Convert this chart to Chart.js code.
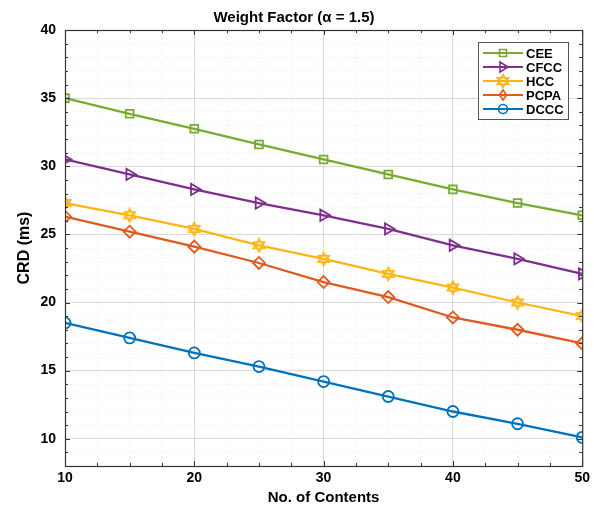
<!DOCTYPE html>
<html>
<head>
  <script src="https://cdn.jsdelivr.net/npm/chart.js@4/dist/chart.umd.min.js"></script>
  <style>
    body { margin: 0; background: #fff; }
  </style>
</head>
<body>
  <canvas id="wykres" width="594" height="507"></canvas>
  <script>
// data
const contents = [10, 15, 20, 25, 30, 35, 40, 45, 50];
const cee  = [35.0, 33.85, 32.75, 31.6, 30.5, 29.4, 28.3, 27.3, 26.4];
const cfcc = [30.5, 29.4, 28.3, 27.3, 26.4, 25.4, 24.2, 23.2, 22.1];
const hcc  = [27.3, 26.4, 25.4, 24.2, 23.2, 22.1, 21.1, 20.0, 19.0];
const pcpa = [26.3, 25.2, 24.1, 22.9, 21.5, 20.4, 18.9, 18.0, 17.0];
const dccc = [18.5, 17.4, 16.3, 15.3, 14.2, 13.1, 12.0, 11.1, 10.1];
const seriesNames = ['CEE', 'CFCC', 'HCC', 'PCPA', 'DCCC'];
const xTicks = [10, 20, 30, 40, 50];
const yTicks = [10, 15, 20, 25, 30, 35, 40];

const colors = ['#77AC30', '#7E2F8E', '#FDB515', '#E05A1E', '#0072BD'];
const FONT = "'Liberation Sans', Arial, sans-serif";

// hexagram marker for HCC
function hexagram(color) {
  const c = document.createElement('canvas');
  c.width = 16; c.height = 16;
  const g = c.getContext('2d');
  g.strokeStyle = color;
  g.lineWidth = 1.6;
  const r = 6.5;
  [ -Math.PI / 2, Math.PI / 2 ].forEach(function (a0) {
    g.beginPath();
    for (let k = 0; k < 3; k++) {
      const a = a0 + k * 2 * Math.PI / 3;
      const px = 8 + r * Math.cos(a), py = 8 + r * Math.sin(a);
      if (k === 0) g.moveTo(px, py); else g.lineTo(px, py);
    }
    g.closePath();
    g.stroke();
  });
  return c;
}
const star = hexagram(colors[2]);

function pts(arr) {
  return contents.map((x, i) => ({ x: x, y: arr[i] }));
}

const markers = [
  { style: 'rect', rot: 0, r: 5.5 },
  { style: 'triangle', rot: 90, r: 6.5 },
  { style: star, rot: 0, r: 6 },
  { style: 'rectRot', rot: 0, r: 6 },
  { style: 'circle', rot: 0, r: 5.5 }
];

const datasets = [cee, cfcc, hcc, pcpa, dccc].map(function (arr, i) {
  return {
    label: seriesNames[i],
    data: pts(arr),
    borderColor: colors[i],
    borderWidth: 2.3,
    pointStyle: markers[i].style,
    pointRotation: markers[i].rot,
    pointRadius: markers[i].r,
    pointBorderWidth: 1.8,
    pointBackgroundColor: 'rgba(0,0,0,0)',
    pointBorderColor: colors[i],
    tension: 0
  };
});

function drawMarker(ctx, i, x, y) {
  const c = colors[i];
  ctx.save();
  ctx.strokeStyle = c;
  ctx.lineWidth = 1.6;
  ctx.beginPath();
  if (i === 0) {
    ctx.rect(x - 3.5, y - 3.5, 7, 7);
  } else if (i === 1) {
    ctx.moveTo(x + 5, y); ctx.lineTo(x - 3, y - 5); ctx.lineTo(x - 3, y + 5); ctx.closePath();
  } else if (i === 2) {
    ctx.drawImage(star, x - 8, y - 8);
  } else if (i === 3) {
    ctx.moveTo(x, y - 5); ctx.lineTo(x + 3.5, y); ctx.lineTo(x, y + 5); ctx.lineTo(x - 3.5, y); ctx.closePath();
  } else {
    ctx.arc(x, y, 4.5, 0, Math.PI * 2);
  }
  ctx.stroke();
  ctx.restore();
}

// box, inner ticks and legend
const frame = {
  id: 'frame',
  afterDraw(chart) {
    const ctx = chart.ctx;
    const a = chart.chartArea;
    const sx = chart.scales.x, sy = chart.scales.y;
    ctx.save();
    ctx.strokeStyle = '#333';
    ctx.lineWidth = 1;
    // inner ticks
    ctx.beginPath();
    sy.ticks.forEach(function (t) {
      const yy = Math.round(sy.getPixelForValue(t.value)) + 0.5;
      const len = t.value % 5 === 0 ? 5 : 3;
      ctx.moveTo(a.left, yy); ctx.lineTo(a.left + len, yy);
      ctx.moveTo(a.right, yy); ctx.lineTo(a.right - len, yy);
    });
    sx.ticks.forEach(function (t) {
      const xx = Math.round(sx.getPixelForValue(t.value)) + 0.5;
      const len = t.value % 10 === 0 ? 5 : 3;
      ctx.moveTo(xx, a.bottom); ctx.lineTo(xx, a.bottom - len);
      ctx.moveTo(xx, a.top); ctx.lineTo(xx, a.top + len);
    });
    ctx.stroke();
    ctx.lineWidth = 1.2;
    ctx.strokeRect(a.left + 0.5, a.top + 0.5, a.right - a.left, a.bottom - a.top);

    // legend
    const bx = 478, by = 42, bw = 90, bh = 77;
    ctx.fillStyle = '#fff';
    ctx.fillRect(bx, by, bw, bh);
    ctx.strokeStyle = '#555';
    ctx.lineWidth = 1;
    ctx.strokeRect(bx + 0.5, by + 0.5, bw, bh);
    ctx.font = 'bold 13px ' + FONT;
    ctx.textBaseline = 'middle';
    seriesNames.forEach(function (name, i) {
      const yy = by + 11 + i * 14;
      ctx.strokeStyle = colors[i];
      ctx.lineWidth = 2;
      ctx.beginPath();
      ctx.moveTo(bx + 5, yy); ctx.lineTo(bx + 45, yy);
      ctx.stroke();
      drawMarker(ctx, i, bx + 25, yy);
      ctx.fillStyle = '#000';
      ctx.fillText(name, bx + 48, yy + 1);
    });
    ctx.restore();
  }
};

const ctx = document.getElementById('wykres');
new Chart(ctx, {
  type: 'line',
  data: { datasets: datasets },
  options: {
    responsive: false,
    animation: false,
    layout: { padding: { left: 4, right: 10, top: 0, bottom: 0 } },
    plugins: {
      legend: { display: false },
      tooltip: { enabled: false },
      title: {
        display: true,
        text: 'Weight Factor (α = 1.5)',
        color: '#000',
        font: { family: FONT, size: 15, weight: 'bold' },
        padding: { top: 9, bottom: 3 }
      }
    },
    scales: {
      x: {
        type: 'linear',
        min: 10, max: 50,
        afterFit(s) { s.height = 41; },
        ticks: {
          stepSize: 2.5,
          autoSkip: false,
          maxRotation: 0,
          padding: 4,
          color: '#000',
          font: { family: FONT, size: 14, weight: 'bold' },
          callback: (v) => xTicks.includes(v) ? String(v) : ''
        },
        grid: {
          drawTicks: false,
          color: (c) => c.tick && c.tick.value % 10 === 0 ? '#d9d9d9' : '#ececec',
          lineWidth: 1
        },
        border: { display: false, dash: (c) => c.tick && c.tick.value % 10 === 0 ? [] : [1, 2] },
        title: {
          display: true,
          text: 'No. of Contents',
          color: '#000',
          font: { family: FONT, size: 15, weight: 'bold' },
          padding: { top: 0, bottom: 0 }
        }
      },
      y: {
        min: 8, max: 40,
        afterFit(s) { s.width = 61; },
        ticks: {
          stepSize: 1,
          autoSkip: false,
          padding: 9,
          color: '#000',
          font: { family: FONT, size: 14, weight: 'bold' },
          callback: (v) => yTicks.includes(v) ? String(v) : ''
        },
        grid: {
          drawTicks: false,
          color: (c) => c.tick && c.tick.value % 5 === 0 ? '#d9d9d9' : '#ececec',
          lineWidth: 1
        },
        border: { display: false, dash: (c) => c.tick && c.tick.value % 5 === 0 ? [] : [1, 2] },
        title: {
          display: true,
          text: 'CRD (ms)',
          color: '#000',
          font: { family: FONT, size: 16, weight: 'bold' },
          padding: { top: 11, bottom: 0 }
        }
      }
    }
  },
  plugins: [frame]
});
  </script>
</body>
</html>
